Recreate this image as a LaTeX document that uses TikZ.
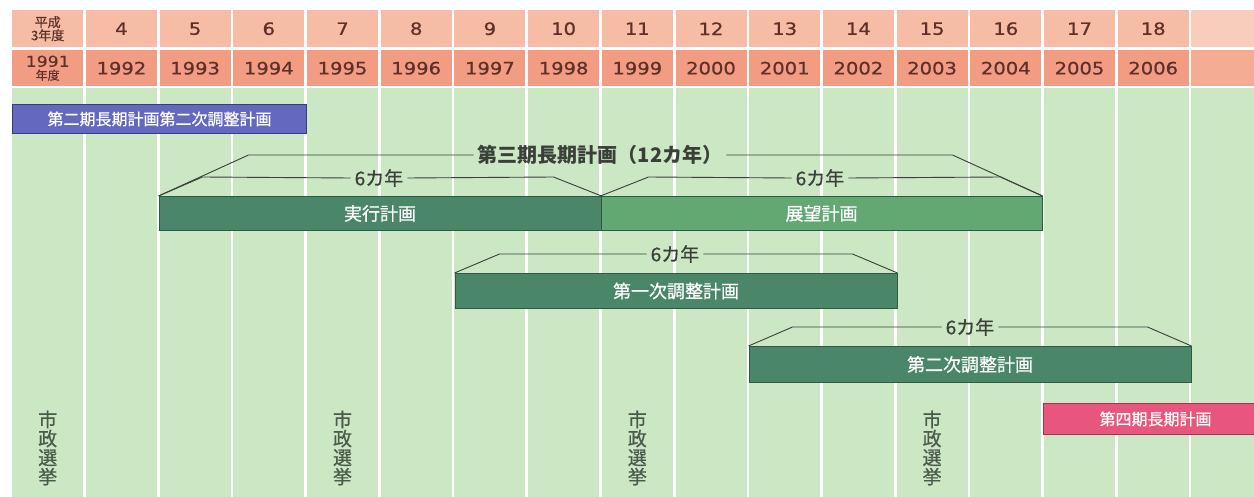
\documentclass[tikz,border=0pt]{standalone}
\usepackage{fontspec}
\setmainfont{Noto Sans CJK JP}
\newfontfamily\med[FakeBold=0.7]{Noto Sans CJK JP}
\newfontfamily\dv[FakeStretch=1.15,FakeBold=0.6]{DejaVu Sans}
\usetikzlibrary{calc}
\definecolor{hdrA}{HTML}{F6BCA6}
\definecolor{hdrB}{HTML}{F29C84}
\definecolor{hdrAl}{HTML}{F9CDBB}
\definecolor{hdrBl}{HTML}{F4AC94}
\definecolor{grn}{HTML}{CCE7C4}
\definecolor{htxt}{HTML}{5E3028}
\definecolor{dkbar}{HTML}{4A8668}
\definecolor{dkedge}{HTML}{2E5A44}
\definecolor{ltbar}{HTML}{62A873}
\definecolor{blubar}{HTML}{6468BE}
\definecolor{bluedge}{HTML}{383C86}
\definecolor{pnkbar}{HTML}{E8567E}
\definecolor{pnkedge}{HTML}{A83050}
\definecolor{lin}{HTML}{3A3F3A}
\definecolor{eltxt}{HTML}{4C5A4C}
\tikzset{
  colbox/.style={fill=grn, anchor=north west, minimum height=409, inner sep=0pt},
  hcellA/.style={fill=hdrA, anchor=north west, minimum height=37, inner sep=0pt, text=htxt},
  hcellB/.style={fill=hdrB, anchor=north west, minimum height=36, inner sep=0pt, text=htxt},
  hnum/.style={text=htxt, font=\dv\fontsize{17}{19}\selectfont},
  bar/.style={draw, line width=1pt, anchor=north west, text=white, inner sep=0pt, font=\med\fontsize{18}{20}\selectfont},
  lbl/.style={text=lin, inner xsep=4pt, inner ysep=0pt, font=\med\fontsize{19}{21}\selectfont},
  conn/.style={draw=lin, line width=0.9pt},
  elec/.style={text=eltxt, align=center, font=\med\fontsize{19}{19}\selectfont, inner sep=0pt}
}
\begin{document}
\begin{tikzpicture}[x=1pt,y=-1pt]
\useasboundingbox (0,0) rectangle (1254,497);
\fill[white] (0,0) rectangle (1254,497);
% columns and header cells
\foreach \i in {0,...,15}{
  \pgfmathsetmacro\xl{12+73.7*\i}
  \node[colbox, minimum width=71] (g\i) at (\xl,88) {};
  \node[hcellA, minimum width=71] (a\i) at (\xl,10) {};
  \node[hcellB, minimum width=71] (b\i) at (\xl,50) {};
}
\node[colbox, minimum width=63] (g16) at (1191,88) {};
\node[hcellA, fill=hdrAl, minimum width=63] (a16) at (1191,10) {};
\node[hcellB, fill=hdrBl, minimum width=63] (b16) at (1191,50) {};
% header texts
\node[text=htxt, align=center, font=\med\fontsize{13}{12}\selectfont, inner sep=0pt] (a0t) at (a0.center) {平成\\3年度};
\node[text=htxt, align=center, font=\med\fontsize{12}{13}\selectfont, inner sep=0pt] (b0t) at (b0.center) {{\dv\fontsize{15}{13}\selectfont 1991}\\年度};
\foreach \i/\n/\yr in {1/4/1992,2/5/1993,3/6/1994,4/7/1995,5/8/1996,6/9/1997,7/10/1998,8/11/1999,9/12/2000,10/13/2001,11/14/2002,12/15/2003,13/16/2004,14/17/2005,15/18/2006}{
  \node[hnum] (an\i) at (a\i.center) {\n};
  \node[hnum] (bn\i) at (b\i.center) {\yr};
}
% bars
\node[bar, fill=blubar, draw=bluedge, minimum width=294, minimum height=29, font=\med\fontsize{16}{18}\selectfont] (p2) at (12,104) {第二期長期計画第二次調整計画};
\node[bar, fill=dkbar, draw=dkedge, minimum width=442, minimum height=34] (jikko) at (158.5,196) {実行計画};
\node[bar, fill=ltbar, draw=dkedge, minimum width=441, minimum height=34] (tenbo) at (600.5,196) {展望計画};
\node[bar, fill=dkbar, draw=dkedge, minimum width=442, minimum height=35] (adj1) at (454.5,273) {第一次調整計画};
\node[bar, fill=dkbar, draw=dkedge, minimum width=442, minimum height=36] (adj2) at (748.5,346) {第二次調整計画};
\node[bar, fill=pnkbar, draw=pnkedge, minimum width=211, minimum height=31, font=\med\fontsize{16}{18}\selectfont] (p4) at (1042.5,403) {\hspace*{14pt}第四期長期計画};
% brackets
\node[lbl, font=\bfseries\fontsize{20}{22}\selectfont] (t3) at (600,155) {第三期長期計画（12カ年）};
\draw[conn] (jikko.north west) -- ++(90,-41) -- (t3.west);
\draw[conn] (t3.east) -- ($(tenbo.north east)+(-90,-41)$) -- (tenbo.north east);
\node[lbl] (s1) at (379,178) {6カ年};
\draw[conn] (jikko.north west) -- ++(44,-19) -- (s1.west);
\draw[conn] (s1.east) -- ($(jikko.north east)+(-48,-19)$) -- (jikko.north east);
\node[lbl] (s2) at (820,178) {6カ年};
\draw[conn] (tenbo.north west) -- ++(48,-19) -- (s2.west);
\draw[conn] (s2.east) -- ($(tenbo.north east)+(-42,-19)$) -- (tenbo.north east);
\node[lbl] (s3) at (675,254) {6カ年};
\draw[conn] (adj1.north west) -- ++(45,-19) -- (s3.west);
\draw[conn] (s3.east) -- ($(adj1.north east)+(-45,-19)$) -- (adj1.north east);
\node[lbl] (s4) at (970,327) {6カ年};
\draw[conn] (adj2.north west) -- ++(44,-19) -- (s4.west);
\draw[conn] (s4.east) -- ($(adj2.north east)+(-44,-19)$) -- (adj2.north east);
% elections
\foreach \i in {0,4,8,12}{
  \node[elec] (e\i) at ($(g\i.north)+(0,360)$) {市\\政\\選\\挙};
}
\end{tikzpicture}
\end{document}
